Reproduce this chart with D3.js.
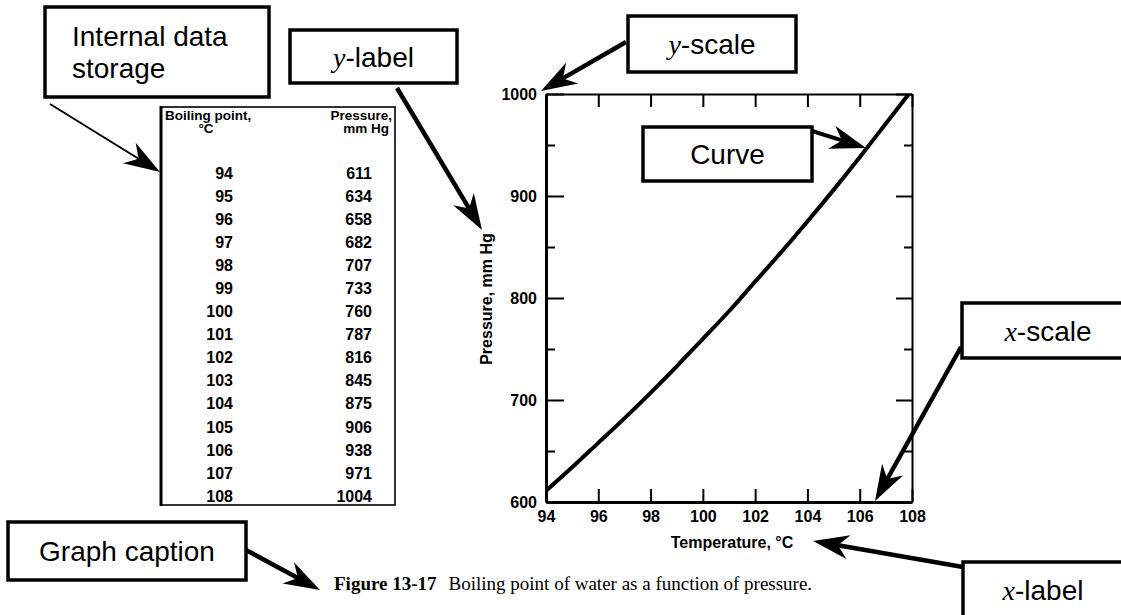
<!DOCTYPE html>
<html>
<head>
<meta charset="utf-8">
<script src="https://cdnjs.cloudflare.com/ajax/libs/d3/7.8.5/d3.min.js"></script>
<style>
    body { margin: 0; background: #fff; }
    svg { display: block; }
    text { font-family: "Liberation Sans", Arial, sans-serif; fill: #000; }
</style>
</head>
<body>
<div class="canvas"></div>
<script>
// data (table of boiling point vs pressure)
const boilingPoints = [94, 95, 96, 97, 98, 99, 100, 101, 102, 103, 104, 105, 106, 107, 108]
const pressures = [611, 634, 658, 682, 707, 733, 760, 787, 816, 845, 875, 906, 938, 971, 1004]

const xTicks = [94, 96, 98, 100, 102, 104, 106, 108]
const yTicks = [600, 700, 800, 900, 1000]
const yMinorTicks = [650, 750, 850, 950]

const xLabel = 'Temperature, °C'
const yLabel = 'Pressure, mm Hg'
const tableHead = ['Boiling point,', '°C', 'Pressure,', 'mm Hg']
const captionBold = 'Figure 13-17'
const captionText = 'Boiling point of water as a function of pressure.'

const width = 1121
const height = 615
const plot = { left: 546, right: 912, top: 94, bottom: 502 }

const svg = d3.select('.canvas')
    .append('svg')
    .attr('width', width)
    .attr('height', height)

// scales
const x = d3.scaleLinear().domain([94, 108]).range([plot.left, plot.right])
const y = d3.scaleLinear().domain([600, 1000]).range([plot.bottom, plot.top])

const styleAxis = (g, domainWidth, showText) => {
    g.attr('font-family', '"Liberation Sans", Arial, sans-serif')
        .attr('font-size', 16)
        .attr('font-weight', 'bold')
    g.select('.domain').attr('stroke-width', domainWidth)
    g.selectAll('.tick line').attr('stroke-width', 2)
    if (!showText) g.selectAll('.tick text').remove()
}

// bottom axis
svg.append('g')
    .attr('transform', `translate(0, ${plot.bottom})`)
    .call(d3.axisBottom(x).tickValues(xTicks).tickSizeInner(-13).tickSizeOuter(0)
        .tickPadding(9).tickFormat(d3.format('d')))
    .call(g => styleAxis(g, 3, true))

// top axis
svg.append('g')
    .attr('transform', `translate(0, ${plot.top})`)
    .call(d3.axisTop(x).tickValues(xTicks).tickSizeInner(-13).tickSizeOuter(0))
    .call(g => styleAxis(g, 2, false))

// left axis, major + minor
svg.append('g')
    .attr('transform', `translate(${plot.left}, 0)`)
    .call(d3.axisLeft(y).tickValues(yTicks).tickSizeInner(-18).tickSizeOuter(0)
        .tickPadding(9).tickFormat(d3.format('d')))
    .call(g => styleAxis(g, 3, true))

svg.append('g')
    .attr('transform', `translate(${plot.left}, 0)`)
    .call(d3.axisLeft(y).tickValues(yMinorTicks).tickSizeInner(-9).tickSizeOuter(0))
    .call(g => styleAxis(g, 0, false))
    .call(g => g.select('.domain').remove())

// right axis, major + minor
svg.append('g')
    .attr('transform', `translate(${plot.right}, 0)`)
    .call(d3.axisRight(y).tickValues(yTicks).tickSizeInner(-16).tickSizeOuter(0))
    .call(g => styleAxis(g, 2, false))

svg.append('g')
    .attr('transform', `translate(${plot.right}, 0)`)
    .call(d3.axisRight(y).tickValues(yMinorTicks).tickSizeInner(-8).tickSizeOuter(0))
    .call(g => styleAxis(g, 0, false))
    .call(g => g.select('.domain').remove())

// axis titles
svg.append('text')
    .attr('x', (plot.left + plot.right) / 2 + 3)
    .attr('y', 548)
    .attr('text-anchor', 'middle')
    .attr('font-size', 16)
    .attr('font-weight', 'bold')
    .text(xLabel)

svg.append('text')
    .attr('transform', `translate(492, ${(plot.top + plot.bottom) / 2 + 1}) rotate(-90)`)
    .attr('text-anchor', 'middle')
    .attr('font-size', 16)
    .attr('font-weight', 'bold')
    .text(yLabel)

// curve
svg.append('clipPath')
    .attr('id', 'plot-clip')
    .append('rect')
    .attr('x', plot.left)
    .attr('y', plot.top)
    .attr('width', plot.right - plot.left)
    .attr('height', plot.bottom - plot.top)

const points = boilingPoints.map((b, i) => ({ temp: b, pressure: pressures[i] }))

const line = d3.line()
    .x(d => x(d.temp))
    .y(d => y(d.pressure))
    .curve(d3.curveMonotoneX)

svg.append('path')
    .datum(points)
    .attr('clip-path', 'url(#plot-clip)')
    .attr('fill', 'none')
    .attr('stroke', '#000')
    .attr('stroke-width', 4)
    .attr('d', line)

// data table
const table = svg.append('g').attr('class', 'table')

table.append('rect')
    .attr('x', 161)
    .attr('y', 107)
    .attr('width', 234)
    .attr('height', 398)
    .attr('fill', 'none')
    .attr('stroke', '#000')
    .attr('stroke-width', 1.6)

table.append('line')
    .attr('x1', 161).attr('x2', 161)
    .attr('y1', 106).attr('y2', 506)
    .attr('stroke', '#000')
    .attr('stroke-width', 3)

const headPos = [
    { x: 165, y: 120, anchor: 'start' },
    { x: 206, y: 133, anchor: 'middle' },
    { x: 392, y: 120, anchor: 'end' },
    { x: 389, y: 133, anchor: 'end' }
]

table.selectAll('.head')
    .data(tableHead)
    .enter()
    .append('text')
    .attr('class', 'head')
    .attr('x', (d, i) => headPos[i].x)
    .attr('y', (d, i) => headPos[i].y)
    .attr('text-anchor', (d, i) => headPos[i].anchor)
    .attr('font-size', 13.5)
    .attr('font-weight', 'bold')
    .text(d => d)

const rowY = d3.scaleLinear().domain([0, boilingPoints.length - 1]).range([173, 496])

const rows = table.selectAll('.row')
    .data(points)
    .enter()
    .append('g')
    .attr('class', 'row')
    .attr('transform', (d, i) => `translate(0, ${rowY(i)})`)

rows.append('text')
    .attr('x', 233)
    .attr('dy', '0.36em')
    .attr('text-anchor', 'end')
    .attr('font-size', 16)
    .attr('font-weight', 'bold')
    .text(d => d.temp)

rows.append('text')
    .attr('x', 372)
    .attr('dy', '0.36em')
    .attr('text-anchor', 'end')
    .attr('font-size', 16)
    .attr('font-weight', 'bold')
    .text(d => d.pressure)

// caption
const caption = svg.append('text')
    .attr('x', 334)
    .attr('y', 590)
    .attr('font-size', 19)
    .style('font-family', '"Liberation Serif", "Times New Roman", serif')

caption.append('tspan').attr('font-weight', 'bold').text(captionBold)
caption.append('tspan').attr('dx', 12).text(captionText)

// annotation boxes
const notes = [
    { x: 45, y: 7, w: 224, h: 90, lines: [['', 'Internal data'], ['', 'storage']], tx: 72, anchor: 'start' },
    { x: 290, y: 30, w: 167, h: 53, lines: [['y', '-label']] },
    { x: 628, y: 16, w: 168, h: 56, lines: [['y', '-scale']] },
    { x: 643, y: 127, w: 169, h: 54, lines: [['', 'Curve']] },
    { x: 962, y: 303, w: 172, h: 55, lines: [['x', '-scale']] },
    { x: 8, y: 522, w: 238, h: 58, lines: [['', 'Graph caption']] },
    { x: 963, y: 562, w: 160, h: 56, lines: [['x', '-label']] }
]

const noteGroups = svg.selectAll('.note')
    .data(notes)
    .enter()
    .append('g')
    .attr('class', 'note')

noteGroups.append('rect')
    .attr('x', d => d.x)
    .attr('y', d => d.y)
    .attr('width', d => d.w)
    .attr('height', d => d.h)
    .attr('fill', '#fff')
    .attr('stroke', '#000')
    .attr('stroke-width', 3.5)

noteGroups.each(function (d) {
    const g = d3.select(this)
    const lh = 32
    const cy = d.y + d.h / 2
    d.lines.forEach((ln, i) => {
        const t = g.append('text')
            .attr('x', d.tx || d.x + d.w / 2)
            .attr('y', cy + 10 + (i - (d.lines.length - 1) / 2) * lh)
            .attr('text-anchor', d.anchor || 'middle')
            .attr('font-size', 28)
        if (ln[0]) {
            t.append('tspan')
                .style('font-family', '"Liberation Serif", "Times New Roman", serif')
                .attr('font-style', 'italic')
                .text(ln[0])
        }
        t.append('tspan').text(ln[1])
    })
})

// arrows
const arrows = [
    { from: [50, 104], to: [160, 172], w: 2 },
    { from: [397, 88], to: [482, 230], w: 4.5 },
    { from: [626, 42], to: [541, 91], w: 4.5 },
    { from: [812, 131], to: [866, 148], w: 4 },
    { from: [961, 347], to: [875, 501], w: 4.5 },
    { from: [246, 550], to: [320, 590], w: 4.5 },
    { from: [963, 567], to: [813, 541], w: 4.5 }
]

const headLen = 36
const headWid = 24

arrows.forEach(a => {
    const dx = a.to[0] - a.from[0]
    const dy = a.to[1] - a.from[1]
    const len = Math.hypot(dx, dy)
    const ux = dx / len, uy = dy / len
    const px = -uy, py = ux
    const notch = [a.to[0] - ux * headLen * 0.7, a.to[1] - uy * headLen * 0.7]
    const back = [a.to[0] - ux * headLen, a.to[1] - uy * headLen]

    svg.append('line')
        .attr('x1', a.from[0])
        .attr('y1', a.from[1])
        .attr('x2', notch[0])
        .attr('y2', notch[1])
        .attr('stroke', '#000')
        .attr('stroke-width', a.w)

    const head = [
        a.to,
        [back[0] + px * headWid / 2, back[1] + py * headWid / 2],
        notch,
        [back[0] - px * headWid / 2, back[1] - py * headWid / 2]
    ]
    svg.append('path')
        .attr('d', 'M' + head.map(p => p.join(',')).join('L') + 'Z')
        .attr('fill', '#000')
})
</script>
</body>
</html>
